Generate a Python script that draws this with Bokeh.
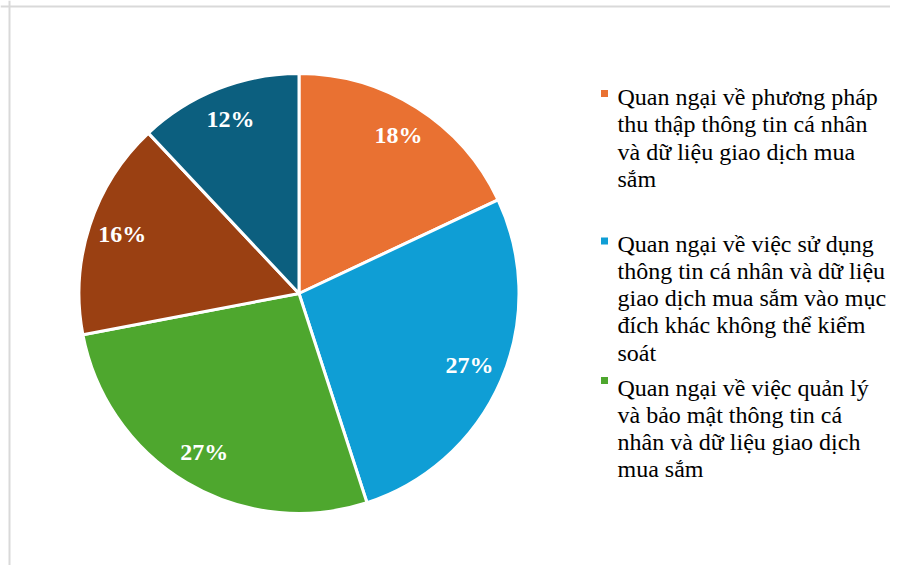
import math
from bokeh.plotting import figure
from bokeh.models import Range1d, Span, ColumnDataSource
from bokeh.core.properties import value
from bokeh.embed import file_html
from bokeh.resources import INLINE

# ---- data ----
shares = [18, 27, 27, 16, 12]
pct_labels = ["18%", "27%", "27%", "16%", "12%"]
colors = ["#E97132", "#0F9ED5", "#4EA72E", "#9A4012", "#0C5F7F"]
legend_lines = [
    ["Quan ngại về phương pháp", "thu thập thông tin cá nhân",
     "và dữ liệu giao dịch mua", "sắm"],
    ["Quan ngại về việc sử dụng", "thông tin cá nhân và dữ liệu",
     "giao dịch mua sắm vào mục", "đích khác không thể kiểm", "soát"],
    ["Quan ngại về việc quản lý", "và bảo mật thông tin cá",
     "nhân và dữ liệu giao dịch", "mua sắm"],
]

W, H = 890, 565
FONT = "'Liberation Serif', 'DejaVu Serif', serif"

p = figure(width=W, height=H, x_range=Range1d(0, W), y_range=Range1d(0, H),
           output_backend="svg", toolbar_location=None, min_border=0,
           x_axis_type=None, y_axis_type=None)
p.grid.visible = False
p.outline_line_color = None
p.background_fill_color = "white"
p.border_fill_color = "white"

# border (left & top)
p.add_layout(Span(location=9, dimension="height", line_color="#d9d9d9", line_width=2))
p.add_layout(Span(location=H - 6, dimension="width", line_color="#d9d9d9", line_width=2))

# pie
cx, cy, r = 298.5, H - 293.0, 220.0
total = float(sum(shares))
starts, ends, lx, ly = [], [], [], []
cum = 0.0
for s in shares:
    a0 = math.pi / 2 - 2 * math.pi * cum / total
    cum += s
    a1 = math.pi / 2 - 2 * math.pi * cum / total
    starts.append(a0)
    ends.append(a1)
    mid = (a0 + a1) / 2
    lx.append(cx + 0.845 * r * math.cos(mid))
    ly.append(cy + 0.845 * r * math.sin(mid) + 2)

src = ColumnDataSource(dict(start=starts, end=ends, color=colors,
                            lx=lx, ly=ly, label=pct_labels))
p.wedge(x=cx, y=cy, radius=r, start_angle="start", end_angle="end",
        direction="clock", fill_color="color", line_color="white",
        line_width=3, source=src)
p.text(x="lx", y="ly", text="label", source=src, text_align="center",
       text_baseline="middle", text_font=value(FONT), text_font_style="bold",
       text_font_size="24px", text_color="white")

# legend (manual, wrapped)
first_lines = [96.5, 243, 387]
squares_y = [93, 240.5, 380]
sq_x, tx, step = 604, 617, 27.3
for i, lines in enumerate(legend_lines):
    b0 = first_lines[i]
    p.scatter(x=[sq_x], y=[H - squares_y[i]], marker="square", size=7,
              fill_color=colors[i], line_color=None)
    ys = [H - (b0 + k * step) for k in range(len(lines))]
    p.text(x=[tx] * len(lines), y=ys, text=lines, text_align="left",
           text_baseline="alphabetic", text_font=value(FONT),
           text_font_size="24px", text_color="#000000")

open("out.html", "w").write(file_html(p, INLINE))
